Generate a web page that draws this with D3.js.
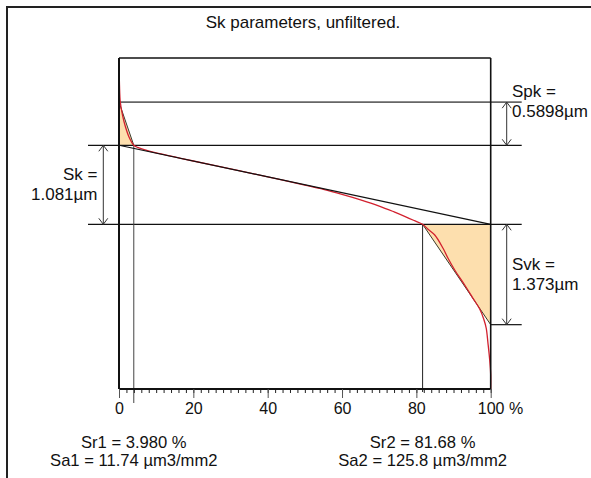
<!DOCTYPE html>
<html>
<head>
<meta charset="utf-8">
<script src="https://cdn.jsdelivr.net/npm/d3@7"></script>
<style>
  html, body { margin: 0; padding: 0; background: #fff; }
  svg { display: block; }
  text { font-family: "Liberation Sans", Arial, sans-serif; fill: #111; }
</style>
</head>
<body>
<svg id="chart" width="591" height="478"></svg>
<script>
// ---- data ----
const title = "Sk parameters, unfiltered.";
const xTicks = [0, 20, 40, 60, 80, 100];
const xMinorTicks = d3.range(0, 101, 2);
// Sk parameters (µm, %)
const Sk = 1.081, Spk = 0.5898, Svk = 1.373;
const Sr1 = 3.980, Sr2 = 81.68;
const Sa1 = 11.74, Sa2 = 125.8;
// heights relative to lower core-line level (µm)
const heightRange = [-2.253, 2.275];
// material ratio (Abbott) curve: ratio %, height µm
const curveRatio = [0, 0.05, 0.13, 0.35, 0.94, 1.75, 2.69, 3.98, 5, 7, 10, 15, 20, 30, 40, 50, 55, 60, 65, 70, 74, 77, 79.5, 81.68,
  83.06, 84.95, 87.18, 88.52, 90.32, 93.01, 95.24, 97.04, 98.12, 98.79, 99.27, 99.73, 100, 100];
const curveHeight = [2.275, 2.11, 1.905, 1.673, 1.495, 1.331, 1.194, 1.081, 1.052, 1.017, 0.976, 0.921, 0.866, 0.758, 0.649, 0.536, 0.478, 0.41, 0.335, 0.25, 0.17, 0.106, 0.05, 0,
  -0.064, -0.146, -0.328, -0.465, -0.625, -0.83, -1.012, -1.159, -1.295, -1.419, -1.628, -1.856, -2.06, -2.253];

// ---- drawing ----
const svg = d3.select("#chart");
const x = d3.scaleLinear().domain([0, 100]).range([119, 490.7]);
const y = d3.scaleLinear().domain(heightRange).range([389, 58]);

const upper = Sk, lower = 0, peakTop = Sk + Spk, valleyBottom = -Svk;

// outer frame
svg.append("rect").attr("x", 7).attr("y", 7).attr("width", 700).attr("height", 700)
  .attr("fill", "none").attr("stroke", "#222").attr("stroke-width", 2);

// title
svg.append("text").attr("x", 303).attr("y", 28.3).attr("text-anchor", "middle")
  .attr("font-size", 17).text(title);

const fillColor = "#fddfae";
// peak triangle
svg.append("path")
  .attr("d", d3.line()([[x(0), y(peakTop)], [x(0), y(upper)], [x(Sr1), y(upper)]]) + "Z")
  .attr("fill", fillColor).attr("stroke", "none");
// valley triangle
svg.append("path")
  .attr("d", d3.line()([[x(Sr2), y(lower)], [x(100), y(lower)], [x(100), y(valleyBottom)]]) + "Z")
  .attr("fill", fillColor).attr("stroke", "none");

// hypotenuses
svg.append("line").attr("x1", x(0)).attr("y1", y(peakTop)).attr("x2", x(Sr1)).attr("y2", y(upper))
  .attr("stroke", "#3a3a2a").attr("stroke-width", 1);
svg.append("line").attr("x1", x(Sr2)).attr("y1", y(lower)).attr("x2", x(100)).attr("y2", y(valleyBottom))
  .attr("stroke", "#3a3a2a").attr("stroke-width", 1);

// horizontal level lines
svg.append("line").attr("x1", x(0)).attr("x2", x(100) + 31).attr("y1", y(peakTop)).attr("y2", y(peakTop))
  .attr("stroke", "#666").attr("stroke-width", 1.8);
svg.append("line").attr("x1", x(0) - 31).attr("x2", x(100) + 31).attr("y1", y(upper)).attr("y2", y(upper))
  .attr("stroke", "#111").attr("stroke-width", 1.2);
svg.append("line").attr("x1", x(0) - 31).attr("x2", x(100) + 31).attr("y1", y(lower)).attr("y2", y(lower))
  .attr("stroke", "#111").attr("stroke-width", 1.2);
svg.append("line").attr("x1", x(100)).attr("x2", x(100) + 31).attr("y1", y(valleyBottom)).attr("y2", y(valleyBottom))
  .attr("stroke", "#111").attr("stroke-width", 1.2);

// Sr verticals
svg.append("line").attr("x1", x(Sr1)).attr("x2", x(Sr1)).attr("y1", y(upper)).attr("y2", 403)
  .attr("stroke", "#444").attr("stroke-width", 1);
svg.append("line").attr("x1", x(Sr2)).attr("x2", x(Sr2)).attr("y1", y(lower)).attr("y2", 392)
  .attr("stroke", "#222").attr("stroke-width", 1);

// material ratio curve
const pts = curveRatio.map((r, i) => [x(r), y(curveHeight[i])]);
svg.append("path").attr("d", d3.line().curve(d3.curveCatmullRom.alpha(0.5))(pts))
  .attr("fill", "none").attr("stroke", "#d2202e").attr("stroke-width", 1.3);

// equivalent straight line
svg.append("line").attr("x1", x(0)).attr("y1", y(upper)).attr("x2", x(100)).attr("y2", y(lower))
  .attr("stroke", "#111").attr("stroke-width", 1.2);

// plot frame
svg.append("line").attr("x1", x(0)).attr("x2", x(100)).attr("y1", 58).attr("y2", 58)
  .attr("stroke", "#111").attr("stroke-width", 1.6);
svg.append("line").attr("x1", x(100)).attr("x2", x(100)).attr("y1", 58).attr("y2", 389)
  .attr("stroke", "#111").attr("stroke-width", 1.6);
svg.append("line").attr("x1", x(0)).attr("x2", x(0)).attr("y1", 58).attr("y2", 389)
  .attr("stroke", "#111").attr("stroke-width", 2);

// x axis minor ticks
const minor = svg.append("g").attr("transform", "translate(0,389)")
  .call(d3.axisBottom(x).tickValues(xMinorTicks).tickSize(4).tickFormat(""));
minor.select(".domain").remove();
minor.selectAll(".tick line").attr("stroke", "#222");
// major ticks
const major = svg.append("g").attr("transform", "translate(0,389)")
  .call(d3.axisBottom(x).tickValues(xTicks).tickSize(9).tickFormat(d => d === 100 ? "100 %" : d));
major.select(".domain").attr("stroke", "#111").attr("stroke-width", 2).attr("d", `M${x(0)},0H${x(100)}`);
major.selectAll(".tick line").attr("stroke", "#555");
major.selectAll(".tick text").attr("y", 25).attr("dy", 0).attr("font-size", 16)
  .attr("font-family", "Liberation Sans, Arial, sans-serif").attr("fill", "#111");
major.selectAll(".tick text").filter(d => d === 100).attr("text-anchor", "start").attr("x", -13.4);

// dimension arrows
function dimArrow(xp, y1, y2) {
  const g = svg.append("g").attr("stroke", "#333").attr("fill", "none").attr("stroke-width", 1);
  g.append("line").attr("x1", xp).attr("x2", xp).attr("y1", y1).attr("y2", y2);
  g.append("path").attr("d", `M${xp - 4.5},${y1 + 6}L${xp},${y1}L${xp + 4.5},${y1 + 6}`);
  g.append("path").attr("d", `M${xp - 4.5},${y2 - 6}L${xp},${y2}L${xp + 4.5},${y2 - 6}`);
}
dimArrow(103.3, y(upper), y(lower));
dimArrow(506.7, y(peakTop), y(upper));
dimArrow(506.7, y(lower), y(valleyBottom));

// labels
function label(t, xp, yp, anchor, size) {
  svg.append("text").attr("x", xp).attr("y", yp).attr("text-anchor", anchor)
    .attr("font-size", size || 17).text(t);
}
label("Sk = ", 97.5, 180, "end");
label(d3.format(".3f")(Sk) + "µm", 97.5, 199.5, "end");
label("Spk =", 512, 96.7, "start");
label(d3.format(".4f")(Spk) + "µm", 512, 116.5, "start");
label("Svk =", 512, 270, "start");
label(d3.format(".3f")(Svk) + "µm", 512, 289.5, "start");
label("Sr1 = " + d3.format(".3f")(Sr1) + " %", x(Sr1), 447.5, "middle", 16.6);
label("Sa1 = " + Sa1 + " µm3/mm2", x(Sr1), 466, "middle", 16.6);
label("Sr2 = " + Sr2 + " %", x(Sr2), 447.5, "middle", 16.6);
label("Sa2 = " + Sa2 + " µm3/mm2", x(Sr2), 466, "middle", 16.6);
</script>
</body>
</html>
